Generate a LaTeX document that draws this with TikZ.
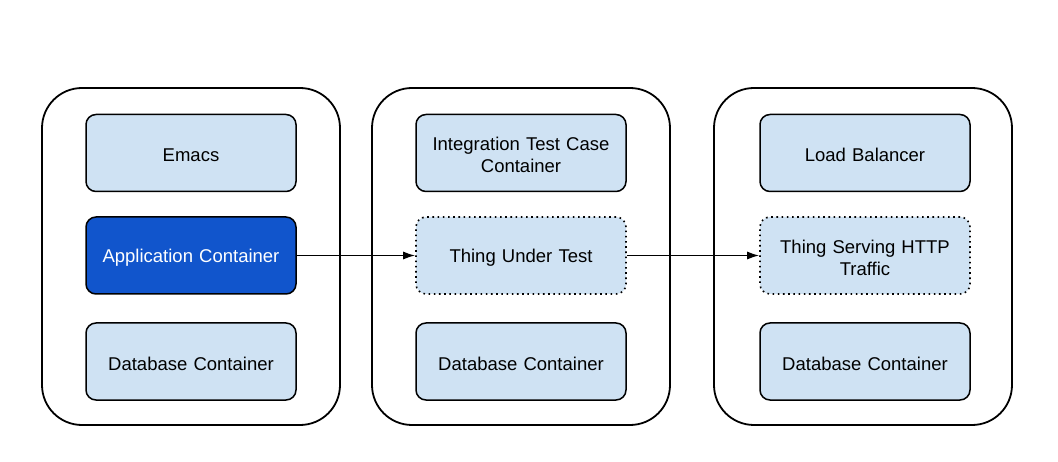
\documentclass[tikz,border=0pt]{standalone}
\usepackage{fontspec}
\setmainfont{Liberation Sans}
\usetikzlibrary{arrows.meta}
\definecolor{lightblue}{HTML}{CFE2F3}
\definecolor{darkblue}{HTML}{1155CC}
\tikzset{
  outerbox/.style={draw=black, line width=1.8pt, rounded corners=40pt, minimum width=298pt, minimum height=337pt, inner sep=0pt},
  innerbox/.style={draw=black, line width=1.5pt, fill=lightblue, rounded corners=10pt, minimum width=210pt, minimum height=77pt, inner sep=2pt, align=center, text width=200pt, font=\fontsize{18.5}{22}\selectfont, text height=17.5pt},
  dotbox/.style={innerbox, line width=1.6pt, dash pattern=on 1.6pt off 3.6pt},
  darkbox/.style={innerbox, fill=darkblue, text=white},
  conn/.style={line width=1.5pt, -{Latex[length=12pt,width=8pt]}}
}
\begin{document}
\begin{tikzpicture}[x=1pt,y=-1pt]
\useasboundingbox (0,0) rectangle (1058,462);
\node[outerbox] (c1) at (191,256.5) {};
\node[outerbox] (c2) at (521,256.5) {};
\node[outerbox] (c3) at (863,256.5) {};
\node[innerbox] (emacs) at (191,153) {Emacs};
\node[darkbox] (app) at (191,255.5) {Application Container};
\node[innerbox] (db1) at (191,361.5) {Database Container};
\node[innerbox] (itc) at (521,153) {Integration Test Case\\Container};
\node[dotbox] (tut) at (521,255.5) {Thing Under Test};
\node[innerbox] (db2) at (521,361.5) {Database Container};
\node[innerbox] (lb) at (865,153) {Load Balancer};
\node[dotbox] (tsh) at (865,255.5) {Thing Serving HTTP\\Traffic};
\node[innerbox] (db3) at (865,361.5) {Database Container};
\draw[conn] (app.east) -- (tut.west);
\draw[conn] (tut.east) -- (tsh.west);
\end{tikzpicture}
\end{document}
